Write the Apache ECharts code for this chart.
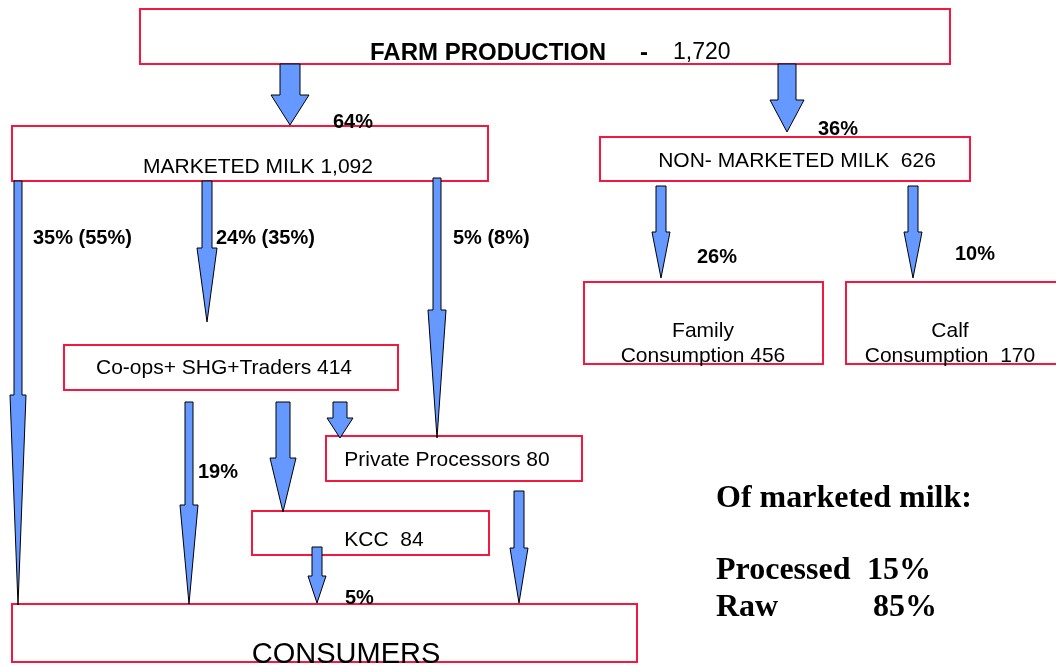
<!DOCTYPE html>
<html lang="en">
<head>
    <meta charset="UTF-8">
    <title>Milk flow</title>
    <style>
        html, body { margin: 0; padding: 0; background: #fff; }
    </style>
</head>
<body>
<div id="main" style="width: 1056px; height: 668px;"></div>

<script src="https://cdn.jsdelivr.net/npm/echarts@6/dist/echarts.min.js"></script>

<script>
// chart data
var nodeNames = ['FARM PRODUCTION', 'MARKETED MILK', 'NON- MARKETED MILK', 'Co-ops+ SHG+Traders',
    'Private Processors', 'KCC', 'Family\nConsumption', 'Calf\nConsumption', 'CONSUMERS'];
var nodeValues = [1720, 1092, 626, 414, 80, 84, 456, 170, null];
var flowShares = ['64%', '36%', '35% (55%)', '24% (35%)', '5% (8%)', '26%', '10%', '19%', '5%'];
var summaryTitle = 'Of marketed milk:';
var summaryNames = ['Processed', 'Raw'];
var summaryShares = [15, 85];

// layout on the 1056 x 668 page: box [x0, y0, x1, y1], text centre [x, y], gap before value
var boxLayout = [
    {box: [140, 9, 950, 64], text: [548, 52], sep: '', size: 24},
    {box: [12, 126, 488, 181], text: [258, 167], sep: ' ', size: 21},
    {box: [600, 137, 970, 181], text: [797, 161], sep: '  ', size: 21},
    {box: [64, 345, 398, 390], text: [224, 368], sep: ' ', size: 21},
    {box: [326, 436, 582, 481], text: [447, 460], sep: ' ', size: 21},
    {box: [252, 511, 489, 555], text: [384, 540], sep: '  ', size: 21},
    {box: [584, 282, 823, 364], text: [703, 344], sep: ' ', size: 21},
    {box: [846, 282, 1062, 364], text: [950, 344], sep: '  ', size: 21},
    {box: [12, 604, 637, 662], text: [346, 655], sep: '', size: 29}
];

// arrows: centre x, shaft top, head start, tip, shaft half width, head half width
var arrowLayout = [
    [290, 64, 95, 125, 10, 19],
    [787, 64, 100, 132, 9, 17],
    [18, 181, 395, 605, 4, 8],
    [207, 181, 248, 322, 5, 10],
    [437, 178, 310, 438, 4, 9],
    [661, 186, 232, 278, 5, 9],
    [913, 186, 232, 278, 5, 9],
    [189, 402, 505, 604, 4, 9],
    [283, 402, 458, 512, 7, 13],
    [340, 402, 418, 438, 7, 13],
    [519, 491, 548, 603, 5, 9],
    [317, 547, 576, 603, 5, 9]
];

// flow label left x, centre y
var shareLayout = [
    [333, 122], [818, 129], [33, 238], [216, 238], [453, 238],
    [697, 257], [955, 254], [198, 472], [345, 598]
];

var sansFont = '"Liberation Sans", Arial, sans-serif';
var serifFont = '"Liberation Serif", "Times New Roman", serif';
var boxRed = '#f5173f';
var arrowBlue = '#6699ff';

function fmt(v) {
    return v.toLocaleString('en-US');
}

function boxLabel(i) {
    if (nodeValues[i] == null) return nodeNames[i];
    return nodeNames[i] + boxLayout[i].sep + fmt(nodeValues[i]);
}

var myChart = echarts.init(document.getElementById('main'));

var option = {
    animation: false,
    grid: {left: 0, right: 0, top: 0, bottom: 0},
    xAxis: {type: 'value', min: 0, max: 1056, show: false},
    yAxis: {type: 'value', min: 0, max: 668, inverse: true, show: false},
    series: [
        {
            // boxes and their texts
            type: 'custom',
            data: nodeNames.map(function (n, i) { return [i]; }),
            renderItem: function (params, api) {
                var i = api.value(0);
                var L = boxLayout[i];
                var p0 = api.coord([L.box[0], L.box[1]]);
                var p1 = api.coord([L.box[2], L.box[3]]);
                var c = api.coord(L.text);
                var children = [{
                    type: 'rect',
                    shape: {x: p0[0], y: p0[1], width: p1[0] - p0[0], height: p1[1] - p0[1]},
                    style: {fill: '#fff', stroke: boxRed, lineWidth: 2}
                }];
                if (i === 0) {
                    // bold name, dash, then plain value
                    var ty = L.text[1] + 1;
                    var a = api.coord([370, ty]);
                    var d = api.coord([640, ty]);
                    var v = api.coord([673, ty]);
                    children.push(
                        {type: 'text', style: {x: a[0], y: a[1], text: nodeNames[0], font: 'bold 24px ' + sansFont,
                            fill: '#000', align: 'left', verticalAlign: 'middle'}},
                        {type: 'text', style: {x: d[0], y: d[1], text: '-', font: 'bold 24px ' + sansFont,
                            fill: '#000', align: 'left', verticalAlign: 'middle'}},
                        {type: 'text', style: {x: v[0], y: v[1], text: fmt(nodeValues[0]), font: '23px ' + sansFont,
                            fill: '#000', align: 'left', verticalAlign: 'middle'}}
                    );
                } else {
                    children.push({
                        type: 'text',
                        style: {
                            x: c[0], y: c[1], text: boxLabel(i),
                            font: L.size + 'px ' + sansFont, lineHeight: 25,
                            fill: '#000', align: 'center', verticalAlign: 'middle'
                        }
                    });
                }
                return {type: 'group', children: children};
            },
            z: 1
        },
        {
            // arrows
            type: 'custom',
            data: arrowLayout.map(function (a, i) { return [i]; }),
            renderItem: function (params, api) {
                var a = arrowLayout[api.value(0)];
                var cx = a[0], yt = a[1], yh = a[2], yp = a[3], s = a[4], h = a[5];
                var pts = [
                    [cx - s, yt], [cx + s, yt], [cx + s, yh], [cx + h, yh],
                    [cx, yp], [cx - h, yh], [cx - s, yh]
                ].map(function (p) { return api.coord(p); });
                return {
                    type: 'polygon',
                    shape: {points: pts},
                    style: {fill: arrowBlue, stroke: '#000', lineWidth: 1}
                };
            },
            z: 2
        },
        {
            // flow shares
            type: 'custom',
            data: flowShares.map(function (f, i) { return [i]; }),
            renderItem: function (params, api) {
                var i = api.value(0);
                var p = api.coord(shareLayout[i]);
                return {
                    type: 'text',
                    style: {x: p[0], y: p[1], text: flowShares[i], font: 'bold 20px ' + sansFont,
                        fill: '#000', align: 'left', verticalAlign: 'middle'}
                };
            },
            z: 3
        },
        {
            // summary block
            type: 'custom',
            data: [[0], [1], [2]],
            renderItem: function (params, api) {
                var i = api.value(0);
                var font = 'bold 32px ' + serifFont;
                if (i === 0) {
                    var t = api.coord([716, 499]);
                    return {type: 'text', style: {x: t[0], y: t[1], text: summaryTitle, font: font,
                        fill: '#000', align: 'left', verticalAlign: 'middle'}};
                }
                var k = i - 1;
                var y = [571, 608][k];
                var n = api.coord([716, y]);
                var v = api.coord([[867, 873][k], y]);
                return {
                    type: 'group',
                    children: [
                        {type: 'text', style: {x: n[0], y: n[1], text: summaryNames[k], font: font,
                            fill: '#000', align: 'left', verticalAlign: 'middle'}},
                        {type: 'text', style: {x: v[0], y: v[1], text: summaryShares[k] + '%', font: font,
                            fill: '#000', align: 'left', verticalAlign: 'middle'}}
                    ]
                };
            },
            z: 3
        }
    ]
};

myChart.setOption(option);
</script>
</body>
</html>
